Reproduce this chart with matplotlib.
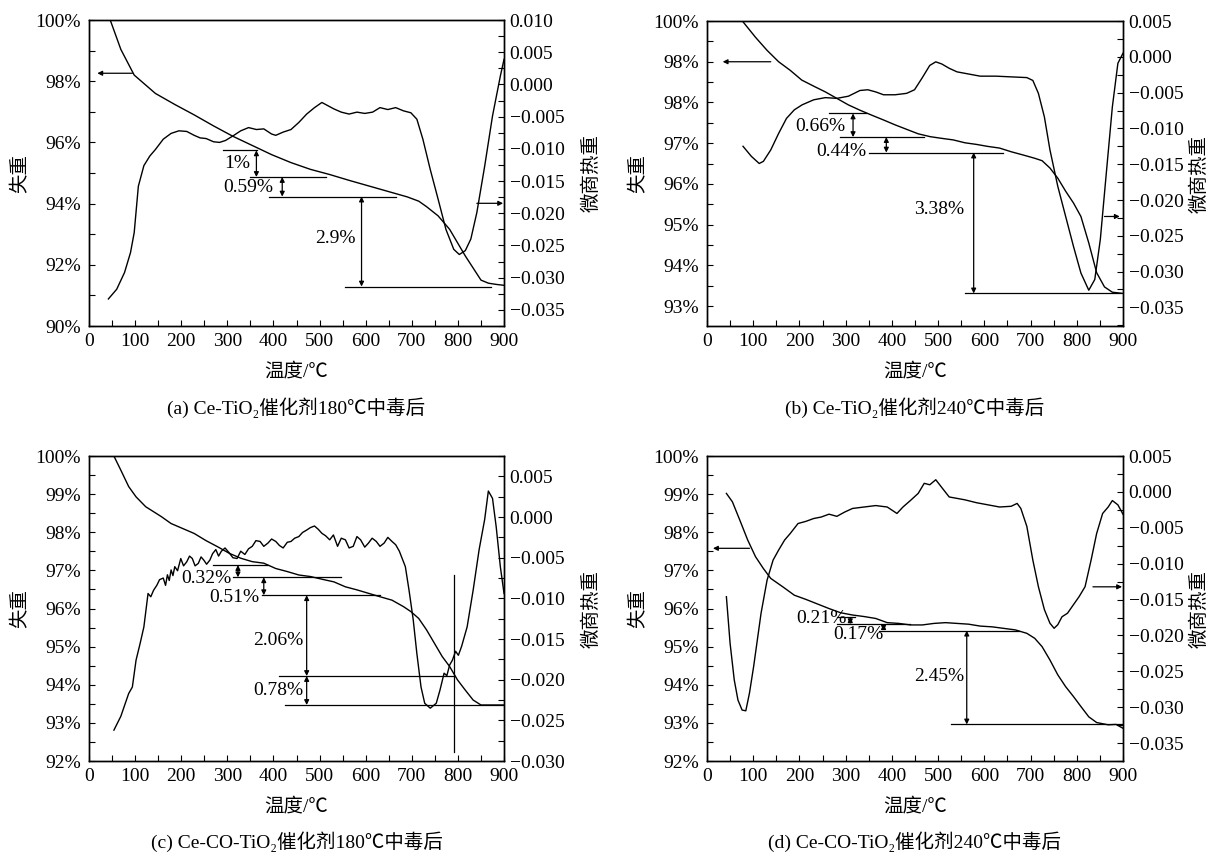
import matplotlib
matplotlib.use("Agg")
import matplotlib.pyplot as plt
from matplotlib.ticker import MultipleLocator, FixedLocator, FuncFormatter

plt.rcParams['font.family'] = ['Liberation Serif', 'Noto Sans CJK SC']
plt.rcParams['axes.unicode_minus'] = True

# ---------------- data ----------------
# (a) Ce-TiO2 180
ta_T = [46, 69, 98, 144, 186, 228, 270, 312, 354, 396, 438, 480, 522, 564, 606, 648, 690, 715, 732, 757,
        782, 816, 850, 866, 883, 900]
ta_w = [100.0, 99.04, 98.2, 97.6, 97.24, 96.9, 96.54, 96.2, 95.9, 95.6, 95.34, 95.12, 94.95, 94.76, 94.58,
        94.4, 94.22, 94.08, 93.9, 93.6, 93.16, 92.29, 91.5, 91.4, 91.36, 91.33]
da_T = [42, 60, 77, 90, 98, 107, 119, 132, 144, 161, 178, 195, 212, 228, 241, 254, 270, 283, 296, 312,
        329, 346, 363, 379, 396, 405, 421, 438, 455, 472, 489, 505, 518, 531, 547, 564, 581, 598, 615, 631,
        648, 665, 682, 698, 711, 724, 740, 757, 774, 791, 803, 816, 828, 841, 858, 875, 892, 900]
da_v = [-0.0333, -0.0318, -0.0292, -0.0261, -0.0230, -0.0158, -0.0126, -0.0111, -0.0101, -0.0085,
        -0.0076, -0.0072, -0.0073, -0.0079, -0.0083, -0.0084, -0.0089, -0.0090, -0.0087, -0.0080,
        -0.0072, -0.0067, -0.0070, -0.0069, -0.0077, -0.0079, -0.0074, -0.0070, -0.0059, -0.0046,
        -0.0036, -0.0028, -0.0033, -0.0038, -0.0043, -0.0046, -0.0043, -0.0045, -0.0043, -0.0036,
        -0.0039, -0.0036, -0.0041, -0.0044, -0.0054, -0.0085, -0.0132, -0.0178, -0.0225, -0.0256,
        -0.0264, -0.0258, -0.0240, -0.0199, -0.0127, -0.0049, 0.0013, 0.0039]

# (b) Ce-TiO2 240
tb_T = [78, 105, 130, 155, 180, 205, 231, 256, 281, 306, 331, 356, 382, 407, 432, 457, 483, 507, 533, 558,
        583, 608, 633, 658, 684, 709, 725, 742, 759, 776, 793, 809, 826, 843, 860, 877, 900]
tb_w = [99.98, 99.6, 99.28, 99.0, 98.79, 98.55, 98.4, 98.26, 98.1, 97.94, 97.81, 97.69, 97.57, 97.45,
        97.34, 97.23, 97.16, 97.12, 97.08, 97.01, 96.97, 96.92, 96.88, 96.79, 96.71, 96.63, 96.57, 96.39,
        96.14, 95.82, 95.53, 95.2, 94.55, 93.82, 93.47, 93.34, 93.31]
db_T = [78, 96, 113, 122, 138, 155, 172, 189, 206, 231, 256, 281, 306, 331, 348, 365, 382, 407, 432, 449,
        465, 482, 495, 508, 524, 541, 566, 591, 625, 658, 692, 705, 717, 730, 742, 759, 776, 793, 809, 826,
        839, 851, 864, 877, 889, 900]
db_v = [-0.0125, -0.0139, -0.0149, -0.0146, -0.0130, -0.0107, -0.0086, -0.0074, -0.0067, -0.0060,
        -0.0057, -0.0058, -0.0055, -0.0047, -0.0046, -0.0049, -0.0053, -0.0053, -0.0051, -0.0046,
        -0.0030, -0.0012, -0.0007, -0.0010, -0.0016, -0.0021, -0.0024, -0.0027, -0.0027, -0.0028,
        -0.0029, -0.0033, -0.0051, -0.0084, -0.0130, -0.0181, -0.0223, -0.0265, -0.0302, -0.0326,
        -0.0311, -0.0255, -0.0162, -0.0070, -0.0009, 0.0005]

# (c) Ce-CO-TiO2 180
tc_T = [54, 69, 86, 102, 123, 144, 157, 178, 203, 228, 254, 279, 304, 329, 354, 379, 405, 430, 455, 480,
        505, 531, 556, 581, 606, 631, 657, 682, 698, 715, 732, 749, 766, 782, 799, 816, 833, 850, 875, 900]
tc_w = [100.0, 99.63, 99.2, 98.93, 98.67, 98.51, 98.41, 98.23, 98.1, 97.97, 97.78, 97.62, 97.45, 97.32,
        97.23, 97.19, 97.05, 96.97, 96.88, 96.84, 96.77, 96.7, 96.57, 96.49, 96.4, 96.31, 96.22, 96.05,
        95.92, 95.74, 95.44, 95.09, 94.74, 94.48, 94.13, 93.86, 93.6, 93.47, 93.47, 93.47]
dc_T = [54, 69, 86, 94, 102, 111, 119, 128, 134, 140, 147, 153, 161, 166, 170, 174, 178, 182, 186, 192,
        199, 205, 212, 218, 224, 230, 237, 243, 249, 255, 262, 268, 275, 281, 287, 295, 304, 312, 321, 329,
        338, 346, 354, 362, 371, 379, 388, 396, 405, 413, 421, 430, 438, 446, 455, 463, 472, 480, 489, 497,
        505, 513, 522, 530, 539, 547, 556, 564, 573, 581, 589, 598, 606, 614, 623, 631, 640, 648, 657, 665,
        673, 686, 694, 703, 711, 720, 728, 740, 753, 761, 770, 776, 782, 788, 795, 801, 808, 820, 833, 846,
        858, 866, 875, 883, 892, 900]
dc_v = [-0.0262, -0.0245, -0.0217, -0.0209, -0.0176, -0.0155, -0.0135, -0.0094, -0.0098, -0.0090,
        -0.0084, -0.0077, -0.0075, -0.0084, -0.0071, -0.0078, -0.0065, -0.0072, -0.0061, -0.0066,
        -0.0051, -0.0060, -0.0055, -0.0048, -0.0051, -0.0060, -0.0057, -0.0049, -0.0053, -0.0058,
        -0.0053, -0.0045, -0.0040, -0.0048, -0.0042, -0.0038, -0.0044, -0.0050, -0.0051, -0.0042,
        -0.0046, -0.0039, -0.0036, -0.0029, -0.0030, -0.0036, -0.0032, -0.0027, -0.0030, -0.0035,
        -0.0038, -0.0031, -0.0030, -0.0026, -0.0024, -0.0019, -0.0016, -0.0013, -0.0011, -0.0015,
        -0.0020, -0.0023, -0.0028, -0.0022, -0.0036, -0.0026, -0.0028, -0.0038, -0.0036, -0.0024,
        -0.0028, -0.0037, -0.0032, -0.0026, -0.0030, -0.0036, -0.0032, -0.0025, -0.0030, -0.0034,
        -0.0042, -0.0061, -0.0090, -0.0126, -0.0168, -0.0209, -0.0229, -0.0235, -0.0229, -0.0213,
        -0.0192, -0.0195, -0.0182, -0.0176, -0.0165, -0.0170, -0.0159, -0.0135, -0.0090, -0.0040,
        -0.0003, 0.0032, 0.0023, -0.0012, -0.0061, -0.0094]

# (d) Ce-CO-TiO2 240
td_T = [42, 55, 71, 88, 105, 122, 138, 164, 189, 214, 239, 264, 289, 315, 340, 365, 390, 415, 440, 466,
        491, 516, 541, 566, 591, 617, 642, 667, 692, 709, 725, 742, 759, 776, 793, 809, 826, 843, 868, 885, 900]
td_w = [99.02, 98.8, 98.32, 97.8, 97.36, 97.05, 96.79, 96.57, 96.35, 96.24, 96.12, 96.0, 95.89, 95.83,
        95.79, 95.74, 95.63, 95.61, 95.57, 95.57, 95.61, 95.63, 95.61, 95.59, 95.54, 95.52, 95.48, 95.44,
        95.35, 95.22, 95.0, 94.65, 94.26, 93.95, 93.69, 93.43, 93.16, 93.01, 92.95, 92.96, 92.86]
dd_T = [42, 50, 59, 67, 76, 84, 92, 101, 109, 117, 130, 143, 155, 168, 180, 197, 214, 231, 247, 264,
        281, 298, 315, 340, 365, 390, 411, 424, 440, 457, 470, 482, 495, 507, 524, 541, 558, 583, 608, 633,
        658, 671, 679, 692, 705, 717, 730, 742, 751, 759, 768, 780, 793, 805, 818, 831, 843, 856, 868, 877,
        889, 900]
dd_v = [-0.0146, -0.0211, -0.0262, -0.0290, -0.0304, -0.0305, -0.0280, -0.0243, -0.0206, -0.0169,
        -0.0123, -0.0095, -0.0081, -0.0067, -0.0058, -0.0044, -0.0041, -0.0037, -0.0035, -0.0031,
        -0.0034, -0.0028, -0.0023, -0.0021, -0.0019, -0.0021, -0.0030, -0.0021, -0.0012, -0.0002,
        0.0012, 0.0010, 0.0017, 0.0007, -0.0007, -0.0009, -0.0011, -0.0015, -0.0018, -0.0021,
        -0.0020, -0.0016, -0.0023, -0.0048, -0.0095, -0.0132, -0.0164, -0.0183, -0.0190, -0.0185,
        -0.0174, -0.0169, -0.0157, -0.0146, -0.0132, -0.0095, -0.0058, -0.0030, -0.0021, -0.0012,
        -0.0018, -0.0031]

titles = ["(a) Ce-TiO\u2082催化剂180\u2103中毒后", "(b) Ce-TiO\u2082催化剂240\u2103中毒后",
          "(c) Ce-CO-TiO\u2082催化剂180\u2103中毒后", "(d) Ce-CO-TiO\u2082催化剂240\u2103中毒后"]

left_ticks_a = [90, 92, 94, 96, 98, 100]
left_ticks_b = [93, 94, 95, 96, 97, 98, 99, 100]
left_labels_b = ["93%", "94%", "95%", "96%", "97%", "98%", "98%", "100%"]  # as printed in the source
left_ticks_cd = [92, 93, 94, 95, 96, 97, 98, 99, 100]

# annotation specs (left-axis units): horizontal guide lines, double arrows, labels, axis arrows
ann_a = dict(hl=[(95.74, 291, 365), (94.87, 350, 514), (94.23, 390, 665), (91.29, 556, 871)],
             dbl=[(363, 95.74, 94.87), (419, 94.87, 94.23), (591, 94.23, 91.29)],
             txt=[(350, 95.30, "1%"), (400, 94.52, "0.59%"), (578, 92.85, "2.9%")],
             arr=[(94, 18, 98.26), (841, 898, 94.01)], vl=[])
ann_b = dict(hl=[(97.73, 264, 344), (97.15, 288, 470), (96.77, 350, 641), (93.31, 558, 895)],
             dbl=[(316, 97.73, 97.15), (388, 97.15, 96.77), (577, 96.77, 93.31)],
             txt=[(300, 97.42, "0.66%"), (344, 96.79, "0.44%"), (556, 95.37, "3.38%")],
             arr=[(138, 34, 99.0), (860, 893, 95.2)], vl=[])
ann_c = dict(hl=[(97.14, 269, 388), (96.82, 312, 547), (96.35, 375, 631), (94.23, 413, 791),
                 (93.47, 426, 900)],
             dbl=[(323, 97.14, 96.82), (379, 96.82, 96.35), (472, 96.35, 94.23), (472, 94.23, 93.47)],
             txt=[(310, 96.79, "0.32%"), (370, 96.29, "0.51%"), (464, 95.17, "2.06%"), (464, 93.86, "0.78%")],
             arr=[], vl=[(792, 92.25, 96.88)])
ann_d = dict(hl=[(95.77, 281, 320), (95.59, 281, 440), (95.42, 373, 675), (92.96, 528, 900)],
             dbl=[(310, 95.77, 95.59), (382, 95.59, 95.42), (562, 95.42, 92.96)],
             txt=[(302, 95.74, "0.21%"), (382, 95.33, "0.17%"), (556, 94.21, "2.45%")],
             arr=[(92, 13, 97.58), (835, 898, 96.57)], vl=[])

FS = 14


def rfmt(v, pos):
    s = "%.3f" % v
    if s == "-0.000":
        s = "0.000"
    return s.replace("-", "\u2212")


def panel(rect, T1, w, T2, d, lylim, lticks, llabels, rylim, ann, rpad):
    ax = fig.add_axes(rect)
    ax2 = ax.twinx()
    ax.plot(T1, w, color="k", lw=1.0)
    ax2.plot(T2, d, color="k", lw=1.0)
    ax.set_xlim(0, 900)
    ax.set_ylim(*lylim)
    ax2.set_ylim(*rylim)
    ax.xaxis.set_major_locator(MultipleLocator(100))
    ax.xaxis.set_minor_locator(MultipleLocator(50))
    ax.yaxis.set_major_locator(FixedLocator(lticks))
    step = lticks[1] - lticks[0]
    ax.yaxis.set_minor_locator(MultipleLocator(step / 2.0))
    ax.set_yticklabels(llabels)
    ax2.yaxis.set_major_locator(MultipleLocator(0.005))
    ax2.yaxis.set_minor_locator(MultipleLocator(0.0025))
    ax2.yaxis.set_major_formatter(FuncFormatter(rfmt))
    ax.tick_params(axis="both", which="both", direction="in", length=4, width=0.8,
                   top=False, right=False, labelsize=FS)
    ax.tick_params(axis="x", pad=5)
    ax.tick_params(axis="y", pad=6)
    ax2.tick_params(axis="y", which="both", direction="in", length=4, width=0.8,
                    labelsize=FS, pad=4)
    for a in (ax, ax2):
        for s in a.spines.values():
            s.set_linewidth(1.0)
    ax.set_xlabel("温度/\u2103", fontsize=FS, labelpad=9)
    ax.set_ylabel("失重", fontsize=FS, labelpad=4)
    ax2.set_ylabel("微商热重", fontsize=FS, labelpad=rpad)

    for y, x0, x1 in ann["hl"]:
        ax.plot([x0, x1], [y, y], color="k", lw=0.9)
    for x, y0, y1 in ann["vl"]:
        ax.plot([x, x], [y0, y1], color="k", lw=0.9)
    for x, y0, y1 in ann["dbl"]:
        ax.annotate("", xy=(x, y1), xytext=(x, y0),
                    arrowprops=dict(arrowstyle="<|-|>", color="k", lw=0.9, mutation_scale=7,
                                    shrinkA=0, shrinkB=0))
    for x, y, s in ann["txt"]:
        ax.text(x, y, s, fontsize=FS, ha="right", va="center")
    for x0, x1, y in ann["arr"]:
        ax.annotate("", xy=(x1, y), xytext=(x0, y),
                    arrowprops=dict(arrowstyle="-|>", color="k", lw=0.9, mutation_scale=7,
                                    shrinkA=0, shrinkB=0))
    return rect[0] + rect[2] / 2.0


fig = plt.figure(figsize=(12.16, 8.55), dpi=100)

pct = lambda t: ["%d%%" % v for v in t]
cxa = panel([0.0732, 0.6187, 0.3413, 0.3579], ta_T, ta_w, da_T, da_v, (90, 100), left_ticks_a,
            pct(left_ticks_a), (-0.0375, 0.0100), ann_a, 13)
cxb = panel([0.5814, 0.6187, 0.3421, 0.3567], tb_T, tb_w, db_T, db_v, (92.51, 100), left_ticks_b,
            left_labels_b, (-0.0376, 0.0050), ann_b, 5)
cxc = panel([0.0732, 0.1099, 0.3413, 0.3567], tc_T, tc_w, dc_T, dc_v, (92, 100), left_ticks_cd,
            pct(left_ticks_cd), (-0.0300, 0.0075), ann_c, 13)
cxd = panel([0.5814, 0.1099, 0.3421, 0.3567], td_T, td_w, dd_T, dd_v, (92, 100), left_ticks_cd,
            pct(left_ticks_cd), (-0.0375, 0.0050), ann_d, 5)

fig.text(cxa, 1 - 408 / 855, titles[0], fontsize=FS, ha="center", va="center")
fig.text(cxb, 1 - 408 / 855, titles[1], fontsize=FS, ha="center", va="center")
fig.text(cxc, 1 - 842 / 855, titles[2], fontsize=FS, ha="center", va="center")
fig.text(cxd, 1 - 842 / 855, titles[3], fontsize=FS, ha="center", va="center")

fig.savefig("out.png", dpi=100)
